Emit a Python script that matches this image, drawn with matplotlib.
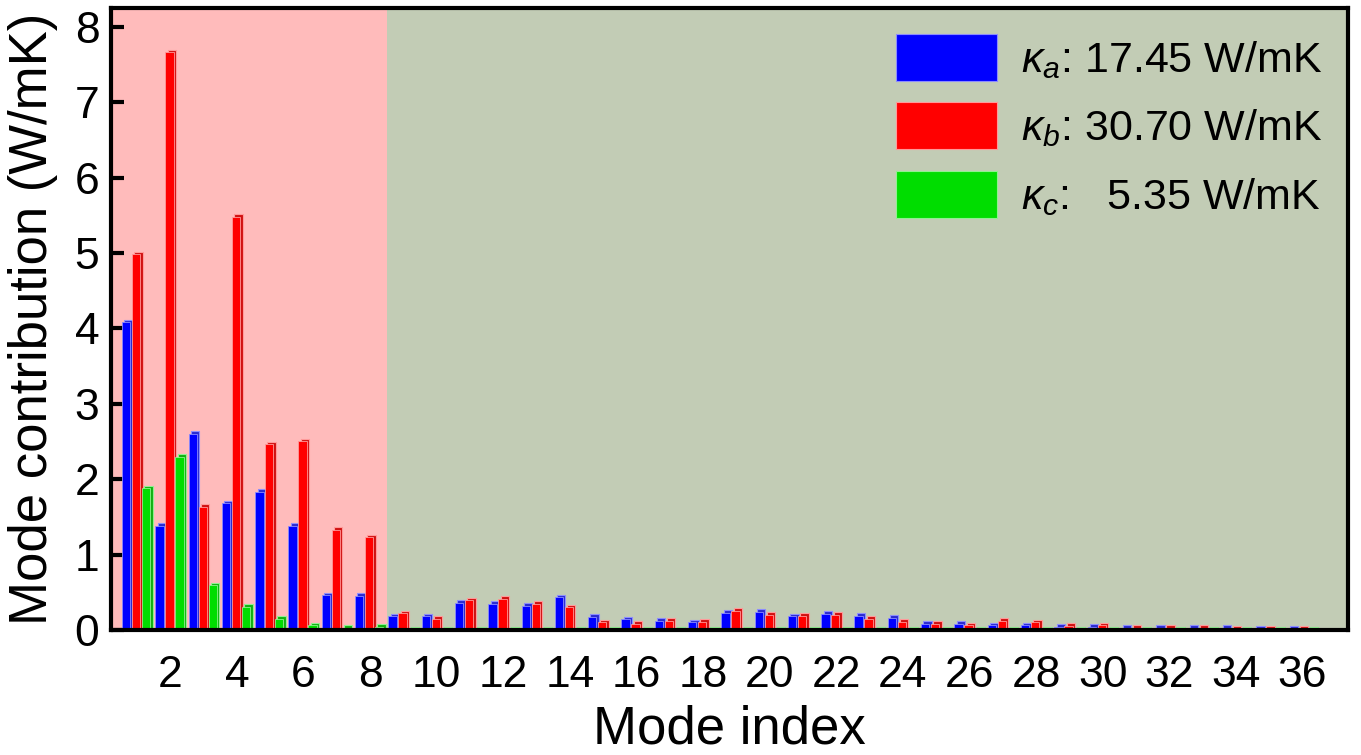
import numpy as np
import matplotlib
matplotlib.use("Agg")
import matplotlib.pyplot as plt
from matplotlib.patches import Patch

plt.rcParams['font.family'] = ['Liberation Sans', 'DejaVu Sans']
plt.rcParams['mathtext.fontset'] = 'custom'
plt.rcParams['mathtext.rm'] = 'Liberation Sans'
plt.rcParams['mathtext.it'] = 'Liberation Sans:italic'

# Per-mode thermal conductivity contributions (W/mK)
modes = np.arange(1, 37)
kappa_a = [4.08, 1.38, 2.60, 1.68, 1.83, 1.38, 0.46, 0.45,
           0.18, 0.18, 0.36, 0.35, 0.32, 0.43, 0.17, 0.14,
           0.12, 0.10, 0.23, 0.24, 0.18, 0.21, 0.19, 0.16,
           0.08, 0.08, 0.06, 0.06, 0.04, 0.04, 0.03, 0.03,
           0.03, 0.03, 0.02, 0.02]
kappa_b = [4.98, 7.66, 1.63, 5.48, 2.46, 2.50, 1.33, 1.23,
           0.22, 0.15, 0.39, 0.41, 0.35, 0.30, 0.10, 0.08,
           0.12, 0.11, 0.25, 0.20, 0.19, 0.20, 0.15, 0.11,
           0.08, 0.06, 0.12, 0.10, 0.05, 0.06, 0.03, 0.03,
           0.03, 0.02, 0.02, 0.02]
kappa_c = [1.88, 2.30, 0.59, 0.31, 0.15, 0.06, 0.03, 0.04] + [0.01] * 28

labels = [r'$\kappa_a$: 17.45 W/mK',
          r'$\kappa_b$: 30.70 W/mK',
          r'$\kappa_c$:   5.35 W/mK']
face_colors = ['#0000ff', '#ff0000', '#00dd00']
side_colors = ['#2a2ad0', '#d01010', '#10b010']
edge_colors = ['#8c8cff', '#ff9a9a', '#90f090']

fig = plt.figure(figsize=(13.61, 7.55), dpi=100)
ax = fig.add_axes([0.0812, 0.1657, 0.9093, 0.8237])

# shaded regions: low-frequency modes vs the rest
ax.axvspan(0, 8.5, color='#ffbbbb', zorder=0, lw=0)
ax.axvspan(8.5, 40, color='#c2ccb5', zorder=0, lw=0)

width = 0.25
offsets = [-0.3, 0.0, 0.3]
dx, dy = 0.07, 0.035
for i, vals in enumerate([kappa_a, kappa_b, kappa_c]):
    x = modes + offsets[i] - 0.03
    vals = np.asarray(vals)
    # depth face drawn behind, shifted up and to the right
    ax.bar(x + dx, vals + dy, width, color=side_colors[i],
           edgecolor=edge_colors[i], linewidth=0.8, zorder=2 + 2 * i)
    ax.bar(x, vals, width, color=face_colors[i],
           edgecolor=edge_colors[i], linewidth=0.6, zorder=3 + 2 * i)

ax.set_xlim(0.2, 37.37)
ax.set_ylim(0, 8.25)
ax.set_xticks(np.arange(2, 37, 2))
ax.set_yticks(np.arange(0, 9, 1))
ax.tick_params(axis='y', direction='in', length=9, width=3, labelsize=32, pad=8)
ax.tick_params(axis='x', length=0, labelsize=32, pad=18)
for sp in ax.spines.values():
    sp.set_linewidth(3)
    sp.set_zorder(10)

ax.set_xlabel('Mode index', fontsize=38, labelpad=6)
ax.set_ylabel('Mode contribution (W/mK)', fontsize=38, labelpad=12)

handles = [Patch(facecolor=c, edgecolor=e, linewidth=0.8)
           for c, e in zip(face_colors, edge_colors)]
ax.legend(handles, labels, loc='upper right', frameon=False, fontsize=31,
          handlelength=2.35, handleheight=1.3, labelspacing=0.5,
          handletextpad=0.55, borderaxespad=0.3, borderpad=0.3)

fig.savefig('out.png', dpi=100)
